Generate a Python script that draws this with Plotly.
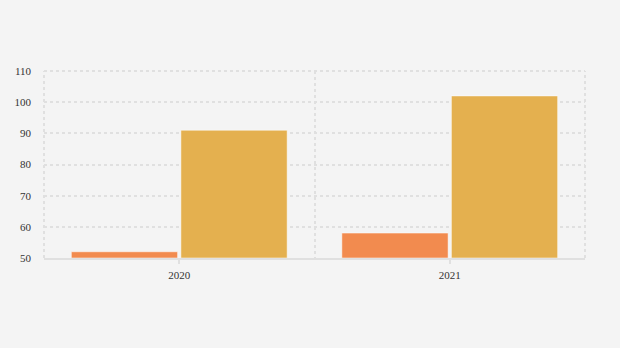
import plotly.graph_objects as go

years = ["2020", "2021"]
series_a = [52, 58]
series_b = [91, 102]
y_ticks = [50, 60, 70, 80, 90, 100, 110]

bg = "#f4f4f4"
grid = "#e0e0e0"
dash = "3px,3px"
font = dict(family="Liberation Serif, Times New Roman, serif", size=11, color="#333333")

fig = go.Figure()
fig.add_trace(go.Bar(x=years, y=[v - 50 for v in series_a], base=50,
                     marker=dict(color="#f28b4f", line=dict(color="rgba(255,255,255,0.5)", width=1)),
                     showlegend=False, hoverinfo="skip"))
fig.add_trace(go.Bar(x=years, y=[v - 50 for v in series_b], base=50,
                     marker=dict(color="#e4b04f", line=dict(color="rgba(255,255,255,0.5)", width=1)),
                     showlegend=False, hoverinfo="skip"))
# invisible trace on the overlay axis so its category boundaries get gridlines
fig.add_trace(go.Scatter(x=years, y=[50, 50], xaxis="x2", mode="markers",
                         marker=dict(opacity=0), showlegend=False, hoverinfo="skip"))

# dotted frame on the top, left and right edges of the plot area
frame = dict(type="line", xref="paper", yref="paper", layer="below",
             line=dict(color=grid, width=2, dash=dash))
shapes = [
    dict(frame, x0=0, x1=1, y0=1, y1=1),
    dict(frame, x0=0, x1=0, y0=0, y1=1),
    dict(frame, x0=1, x1=1, y0=0, y1=1),
]

fig.update_layout(
    width=620, height=348,
    margin=dict(l=44, r=35, t=71, b=90),
    paper_bgcolor=bg, plot_bgcolor=bg,
    barmode="group", bargap=0.19, bargroupgap=0.03,
    font=font, shapes=shapes,
    xaxis=dict(type="category", range=[-0.5, 1.5], showgrid=False,
               showline=True, linecolor=grid, linewidth=2,
               ticks="outside", ticklen=4, tickcolor=grid, tickwidth=2,
               ticklabelstandoff=2, tickfont=font, zeroline=False),
    xaxis2=dict(type="category", overlaying="x", matches="x", range=[-0.5, 1.5],
                tickson="boundaries", showgrid=True, gridcolor=grid, griddash=dash,
                gridwidth=2, showticklabels=False, ticks="", showline=False, zeroline=False),
    yaxis=dict(range=[50, 110], tickvals=y_ticks, showgrid=True, gridcolor=grid,
               griddash=dash, gridwidth=2, zeroline=False, showline=False,
               ticks="", tickfont=font, ticklabelstandoff=12),
)

fig.write_html("out.html")
